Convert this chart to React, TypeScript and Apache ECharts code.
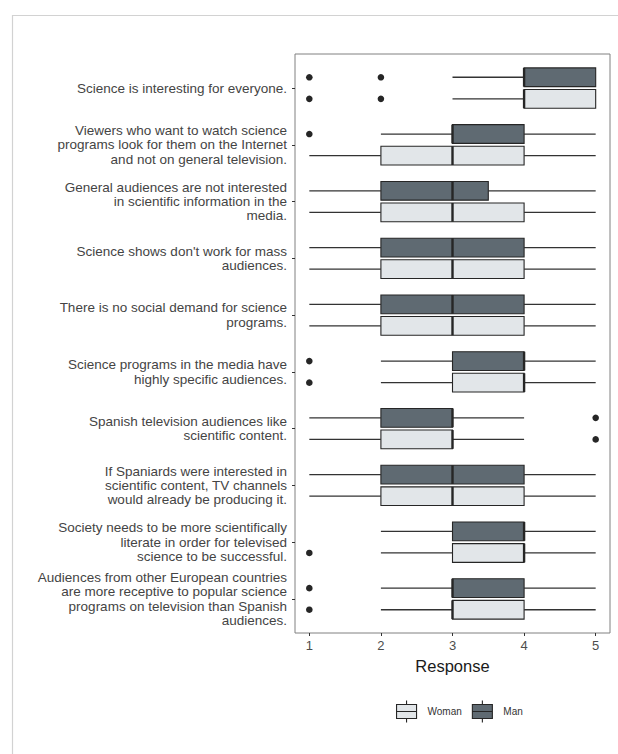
import React, { useEffect, useRef } from "react";
import * as echarts from "echarts";

// Survey statements (already wrapped as they appear on the axis), top to bottom
const categories: string[] = [
  "Science is interesting for everyone.",
  "Viewers who want to watch science\nprograms look for them on the Internet\nand not on general television.",
  "General audiences are not interested\nin scientific information in the\nmedia.",
  "Science shows don't work for mass\naudiences.",
  "There is no social demand for science\nprograms.",
  "Science programs in the media have\nhighly specific audiences.",
  "Spanish television audiences like\nscientific content.",
  "If Spaniards were interested in\nscientific content, TV channels\nwould already be producing it.",
  "Society needs to be more scientifically\nliterate in order for televised\nscience to be successful.",
  "Audiences from other European countries\nare more receptive to popular science\nprograms on television than Spanish\naudiences.",
];

// Five-number summaries per statement: [min, Q1, median, Q3, max]
const manStats: number[][] = [
  [3, 4, 4, 5, 5],
  [2, 3, 3, 4, 5],
  [1, 2, 3, 3.5, 5],
  [1, 2, 3, 4, 5],
  [1, 2, 3, 4, 5],
  [2, 3, 4, 4, 5],
  [1, 2, 3, 3, 4],
  [1, 2, 3, 4, 5],
  [2, 3, 4, 4, 5],
  [2, 3, 3, 4, 5],
];

const womanStats: number[][] = [
  [3, 4, 4, 5, 5],
  [1, 2, 3, 4, 5],
  [1, 2, 3, 4, 5],
  [1, 2, 3, 4, 5],
  [1, 2, 3, 4, 5],
  [2, 3, 4, 4, 5],
  [1, 2, 3, 3, 4],
  [1, 2, 3, 4, 5],
  [2, 3, 4, 4, 5],
  [2, 3, 3, 4, 5],
];

// Outliers: [statement index (0-based), response]
const manOutliers: number[][] = [
  [0, 1], [0, 2], [1, 1], [5, 1], [6, 5], [9, 1],
];
const womanOutliers: number[][] = [
  [0, 1], [0, 2], [5, 1], [6, 5], [8, 1], [9, 1],
];

const xTicks: number[] = [1, 2, 3, 4, 5];

const MAN_FILL = "#5f6a72";
const WOMAN_FILL = "#e2e6e9";
const INK = "#262626";
const FONT = "'Liberation Sans', Arial, Helvetica, sans-serif";

// Dodge offset and box thickness, in category units
const DODGE = 0.19;
const BOX_H = 0.33;

function boxRenderer(offset: number, fill: string) {
  return (_params: any, api: any) => {
    const pos = api.value(0) + offset;
    const [xMin, cy] = api.coord([api.value(1), pos]);
    const xQ1 = api.coord([api.value(2), pos])[0];
    const xMed = api.coord([api.value(3), pos])[0];
    const xQ3 = api.coord([api.value(4), pos])[0];
    const xMax = api.coord([api.value(5), pos])[0];
    const h = api.size([0, BOX_H])[1];
    const top = cy - h / 2;
    const children: any[] = [];
    if (xQ1 - xMin > 0.5) {
      children.push({
        type: "line",
        shape: { x1: xMin, y1: cy, x2: xQ1, y2: cy },
        style: { stroke: "#333", lineWidth: 1.3 },
      });
    }
    if (xMax - xQ3 > 0.5) {
      children.push({
        type: "line",
        shape: { x1: xQ3, y1: cy, x2: xMax, y2: cy },
        style: { stroke: "#333", lineWidth: 1.3 },
      });
    }
    children.push({
      type: "rect",
      shape: { x: xQ1, y: top, width: xQ3 - xQ1, height: h },
      style: { fill, stroke: INK, lineWidth: 1.1 },
    });
    children.push({
      type: "line",
      shape: { x1: xMed, y1: top, x2: xMed, y2: top + h },
      style: { stroke: INK, lineWidth: 2.4 },
    });
    return { type: "group", children };
  };
}

function outlierRenderer(offset: number) {
  return (_params: any, api: any) => {
    const [x, y] = api.coord([api.value(1), api.value(0) + offset]);
    return {
      type: "circle",
      shape: { cx: x, cy: y, r: 3.3 },
      style: { fill: INK },
    };
  };
}

const legendIcon =
  "path://M0,4H20V18H0Z M0,11H20 M10,0V4 M10,18V22";

export default function App() {
  const ref = useRef<HTMLDivElement>(null);

  useEffect(() => {
    if (!ref.current) return;
    const chart = echarts.init(ref.current, undefined, { renderer: "svg" });

    const toRows = (stats: number[][]) =>
      stats.map((s, i) => [i + 1, ...s]);
    const toPts = (pts: number[][]) => pts.map(([i, v]) => [i + 1, v]);

    chart.setOption({
      animation: false,
      backgroundColor: "#ffffff",
      textStyle: { fontFamily: FONT },
      graphic: [
        {
          type: "rect",
          left: 10,
          top: 13,
          shape: { width: 640, height: 780 },
          style: { fill: "none", stroke: "#d2d2d2", lineWidth: 1.2 },
          z: -1,
          silent: true,
        },
      ],
      grid: {
        left: 295,
        right: 8,
        top: 54,
        bottom: 121,
        show: true,
        borderColor: "#808080",
        borderWidth: 1,
        backgroundColor: "#ffffff",
      },
      xAxis: {
        type: "value",
        min: 0.8,
        max: 5.2,
        axisLine: { show: false },
        splitLine: { show: false },
        axisTick: {
          show: true,
          length: 3,
          lineStyle: { color: "#333" },
          customValues: xTicks,
        },
        axisLabel: {
          color: "#4d4d4d",
          fontSize: 13,
          margin: 6,
          customValues: xTicks,
          fontFamily: FONT,
        },
        name: "Response",
        nameLocation: "middle",
        nameGap: 24,
        nameTextStyle: {
          color: "#1a1a1a",
          fontSize: 16.5,
          verticalAlign: "top",
          fontFamily: FONT,
        },
      },
      yAxis: {
        type: "value",
        min: 0.4,
        max: categories.length + 0.6,
        inverse: true,
        axisLine: { show: false },
        splitLine: { show: false },
        axisTick: {
          show: true,
          length: 3,
          lineStyle: { color: "#333" },
          customValues: categories.map((_, i) => i + 1),
        },
        axisLabel: {
          color: "#444444",
          fontSize: 13.5,
          lineHeight: 14.4,
          margin: 8,
          align: "right",
          fontFamily: FONT,
          customValues: categories.map((_, i) => i + 1),
          formatter: (v: number) => categories[Math.round(v) - 1] ?? "",
        },
      },
      legend: {
        left: 391,
        top: 695,
        itemWidth: 20,
        itemHeight: 22,
        itemGap: 10,
        textStyle: {
          color: "#333",
          fontSize: 10,
          fontFamily: FONT,
          padding: [0, 0, 0, 6],
        },
        data: [
          {
            name: "Woman",
            icon: legendIcon,
            itemStyle: { color: WOMAN_FILL, borderColor: INK, borderWidth: 1.1 },
          },
          {
            name: "Man",
            icon: legendIcon,
            itemStyle: { color: MAN_FILL, borderColor: INK, borderWidth: 1.1 },
          },
        ],
      },
      series: [
        {
          name: "Woman",
          type: "custom",
          renderItem: boxRenderer(DODGE, WOMAN_FILL),
          encode: { x: [1, 2, 3, 4, 5], y: 0 },
          itemStyle: { color: WOMAN_FILL, borderColor: INK },
          data: toRows(womanStats),
          silent: true,
        },
        {
          name: "Man",
          type: "custom",
          renderItem: boxRenderer(-DODGE, MAN_FILL),
          encode: { x: [1, 2, 3, 4, 5], y: 0 },
          itemStyle: { color: MAN_FILL, borderColor: INK },
          data: toRows(manStats),
          silent: true,
        },
        {
          name: "Woman",
          type: "custom",
          renderItem: outlierRenderer(DODGE),
          encode: { x: 1, y: 0 },
          data: toPts(womanOutliers),
          silent: true,
        },
        {
          name: "Man",
          type: "custom",
          renderItem: outlierRenderer(-DODGE),
          encode: { x: 1, y: 0 },
          data: toPts(manOutliers),
          silent: true,
        },
      ],
    });

    return () => chart.dispose();
  }, []);

  return (
    <div
      ref={ref}
      style={{
        position: "fixed",
        left: 0,
        top: 0,
        width: 618,
        height: 754,
        background: "#ffffff",
      }}
    />
  );
}
